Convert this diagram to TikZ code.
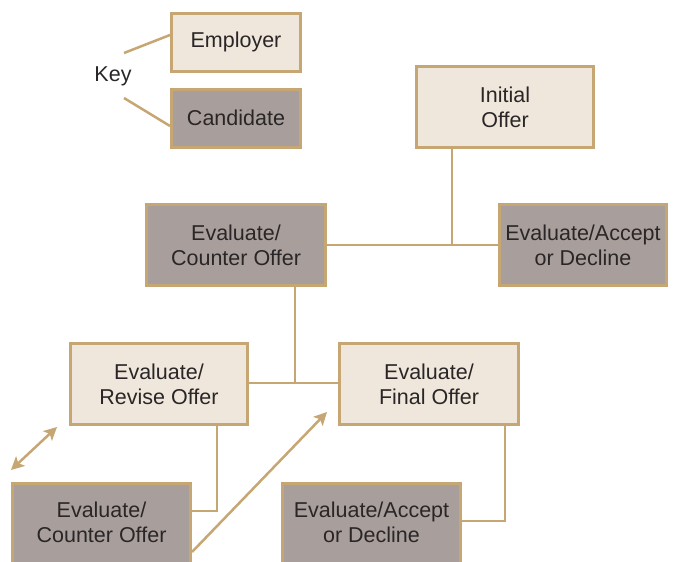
\documentclass[tikz,border=0pt]{standalone}
\usepackage{fontspec}
\setmainfont{Liberation Sans}
\usetikzlibrary{arrows.meta,calc}
\definecolor{gold}{HTML}{C6A673}
\definecolor{lightfill}{HTML}{EFE7DB}
\definecolor{darkfill}{HTML}{A89F9C}
\definecolor{ink}{HTML}{2A2627}
\tikzset{
  txt/.style={align=center, font=\fontsize{21.5}{25}\selectfont, text=ink, inner sep=0pt},
  box/.style={txt, draw=gold, line width=3pt, minimum height=81pt},
  emp/.style={box, fill=lightfill},
  cand/.style={box, fill=darkfill},
  conn/.style={draw=gold, line width=2.5pt},
  tip/.style={-{Stealth[length=13pt,width=13pt,inset=3pt]}},
  dtip/.style={{Stealth[length=13pt,width=13pt,inset=3pt]}-{Stealth[length=13pt,width=13pt,inset=3pt]}}
}
\begin{document}
\begin{tikzpicture}[x=1pt,y=-1pt]
\useasboundingbox (0,0) rectangle (675,562);
% key
\node[emp, minimum width=129pt, minimum height=58pt] (kemp) at (236,42) {Employer};
\node[cand, minimum width=129pt, minimum height=58pt] (kcand) at (236,118) {Candidate};
\node[txt] (key) at (113,76) {Key};
\coordinate (ka) at (124,53);
\coordinate (kb) at (124,98);
\draw[conn] (ka) -- ($(kemp.west)+(0,-7)$);
\draw[conn] (kb) -- ($(kcand.west)+(0,8)$);
% main boxes
\node[emp, minimum width=177pt] (init) at (505,107) {Initial\\Offer};
\node[cand, minimum width=179pt] (cnt1) at (236,245) {Evaluate/\\Counter Offer};
\node[cand, minimum width=167pt] (acc1) at (583,245) {Evaluate/Accept\\or Decline};
\node[emp, minimum width=177pt] (rev) at (159,384) {Evaluate/\\Revise Offer};
\node[emp, minimum width=179pt] (fin) at (429,384) {Evaluate/\\Final Offer};
\node[cand, minimum width=178pt, minimum height=100pt, anchor=north] (cnt2) at (101.5,482) {};
\node[txt] (cnt2t) at (101.5,522) {Evaluate/\\Counter Offer};
\node[cand, minimum width=178pt, minimum height=100pt, anchor=north] (acc2) at (371.5,482) {};
\node[txt] (acc2t) at (371.5,522) {Evaluate/Accept\\or Decline};
% connectors
\coordinate (j1) at (452,245);
\draw[conn] (cnt1.east) -- (acc1.west);
\draw[conn] (init.south -| j1) -- (j1);
\coordinate (j2) at (295,383);
\draw[conn] (rev.east |- j2) -- (fin.west |- j2);
\draw[conn] (cnt1.south -| j2) -- (j2);
\coordinate (j3) at (217,511);
\draw[conn] (rev.south -| j3) -- (j3) -- (cnt2.east |- j3);
\coordinate (j4) at (505,521);
\draw[conn] (fin.south -| j4) -- (j4) -- (acc2.east |- j4);
% arrows
\coordinate (d1) at (11,470);
\coordinate (d2) at (57,427);
\draw[conn, dtip] (d1) -- (d2);
\coordinate (a1) at (192,552);
\coordinate (a2) at (327,412);
\draw[conn, tip] (a1) -- (a2);
\end{tikzpicture}
\end{document}
